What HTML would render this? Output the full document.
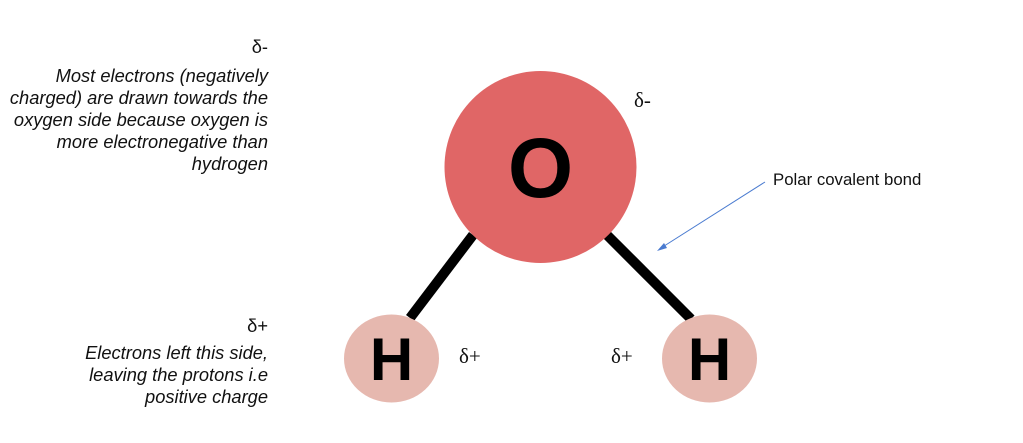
<!DOCTYPE html>
<html><head><style>
body{margin:0;width:1023px;height:443px;background:#fff;overflow:hidden;position:relative;font-family:"Liberation Sans",sans-serif}
.t{position:absolute;right:755px;text-align:right;font-style:italic;font-size:18.3px;line-height:22px;color:#111;white-space:nowrap}
.d{position:absolute;font-family:"Liberation Serif",serif;font-size:21px;color:#111}
</style></head><body>
<svg width="1023" height="443" style="position:absolute;left:0;top:0">
<line x1="473" y1="235" x2="410" y2="318" stroke="#000" stroke-width="10"/>
<line x1="607" y1="235" x2="691" y2="319" stroke="#000" stroke-width="10"/>
<circle cx="540.5" cy="167" r="96" fill="#e06666"/>
<ellipse cx="391.5" cy="358.5" rx="47.5" ry="44" fill="#e6b8af"/>
<ellipse cx="709.5" cy="358.5" rx="47.5" ry="44" fill="#e6b8af"/>
<text x="540.5" y="197" text-anchor="middle" font-family="Liberation Sans" font-weight="bold" font-size="84">O</text>
<text x="391.5" y="380" text-anchor="middle" font-family="Liberation Sans" font-weight="bold" font-size="60">H</text>
<text x="709.5" y="380" text-anchor="middle" font-family="Liberation Sans" font-weight="bold" font-size="60">H</text>
<line x1="765" y1="182" x2="661" y2="248" stroke="#4a7bd0" stroke-width="1"/>
<polygon points="657,251 664,243 667,248" fill="#4a7bd0"/>
</svg>
<div class="t" style="top:36px;font-style:normal">δ-</div>
<div class="t" style="top:65px">Most electrons (negatively<br>charged) are drawn towards the<br>oxygen side because oxygen is<br>more electronegative than<br>hydrogen</div>
<div class="t" style="top:315px;font-style:normal">δ+</div>
<div class="t" style="top:342px">Electrons left this side,<br>leaving the protons i.e<br>positive charge</div>
<div class="d" style="left:634px;top:88px">δ-</div>
<div class="d" style="left:459px;top:344px">δ+</div>
<div class="d" style="left:611px;top:344px">δ+</div>
<div style="position:absolute;left:773px;top:170px;font-size:16.8px;color:#111">Polar covalent bond</div>
</body></html>
